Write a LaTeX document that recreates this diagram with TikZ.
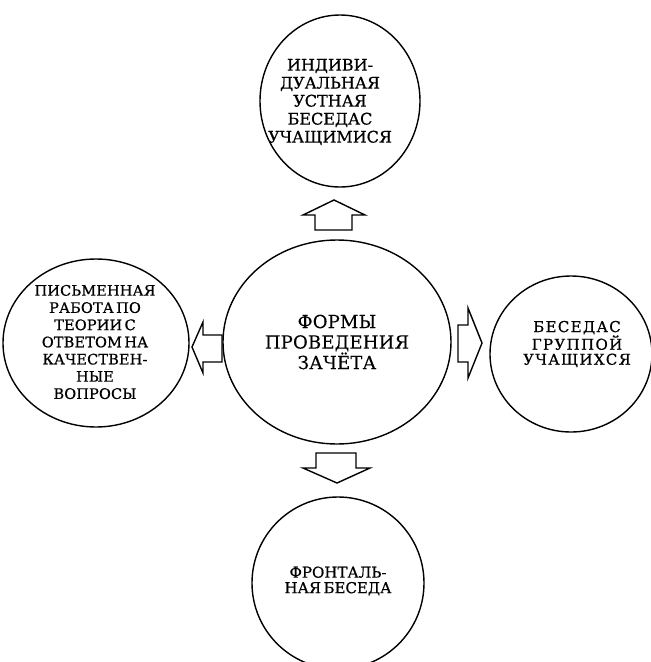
\documentclass[tikz,border=0pt]{standalone}
\usepackage{fontspec}
\setmainfont{DejaVu Serif}
\newfontfamily\fA[FakeBold=0.7]{DejaVu Serif}
\newfontfamily\fB[LetterSpace=1,FakeBold=0.7]{DejaVu Serif}
\newfontfamily\fC[LetterSpace=1,FakeBold=0.2]{DejaVu Serif}
\newfontfamily\fD[LetterSpace=9,FakeBold=0.7]{DejaVu Serif}
\newfontfamily\fE[FakeBold=0.7]{DejaVu Serif}
\usetikzlibrary{shapes.geometric}
\tikzset{
  ell/.style={draw=black, line width=1.4pt, ellipse, inner sep=0pt},
  txt/.style={align=center, inner sep=0pt},
  barrow/.style={draw=black, line width=1.4pt, line join=miter, fill=white}
}
\begin{document}
\begin{tikzpicture}[x=1pt,y=-1pt]
\useasboundingbox (0,0) rectangle (651,662);
% shapes
\node[ell, minimum width=160pt, minimum height=172pt] (top) at (340,101) {};
\node[ell, minimum width=228pt, minimum height=204pt] (mid) at (337,342) {};
\node[ell, minimum width=186pt, minimum height=168pt] (left) at (96,343) {};
\node[ell, minimum width=162pt, minimum height=156pt] (right) at (571,354) {};
\node[ell, minimum width=172pt, minimum height=172pt] (bot) at (338,583) {};
% texts
\node[txt, font=\fA\fontsize{16}{18}\selectfont] (ttop) at (330,102) {ИНДИВИ-\\ДУАЛЬНАЯ\\УСТНАЯ\\БЕСЕДАС\\УЧАЩИМИСЯ};
\node[txt, font=\fC\fontsize{18}{20.5}\selectfont] (tmid) at (337,342) {ФОРМЫ\\ПРОВЕДЕНИЯ\\ЗАЧЁТА};
\node[txt, font=\fB\fontsize{14.5}{17.2}\selectfont] (tleft) at (95,342) {ПИСЬМЕННАЯ\\РАБОТА\,ПО\\ТЕОРИИ\,С\\ОТВЕТОМ\,НА\\КАЧЕСТВЕН-\\НЫЕ\\ВОПРОСЫ};
\node[txt, font=\fD\fontsize{15}{15}\selectfont] (tright) at (577,344) {БЕСЕДАС\\ГРУППОЙ\\УЧАЩИХСЯ};
\node[txt, font=\fE\fontsize{15}{15.5}\selectfont] (tbot) at (338,581) {ФРОНТАЛЬ-\\НАЯ\,БЕСЕДА};
% block arrows
\draw[barrow] (315,230) -- (315,215) -- (303,215) -- (334,200) -- (365,215) -- (352,215) -- (352,230) -- cycle;
\draw[barrow] (316,453) -- (316,468) -- (303,468) -- (337,483) -- (370,468) -- (356,468) -- (356,453) -- cycle;
\draw[barrow] (458,325) -- (468,325) -- (468,308) -- (482,343) -- (468,378) -- (468,362) -- (458,362) -- cycle;
\draw[barrow] (222,335) -- (203,335) -- (203,322) -- (192,347) -- (203,373) -- (203,362) -- (222,362) -- cycle;
\end{tikzpicture}
\end{document}
